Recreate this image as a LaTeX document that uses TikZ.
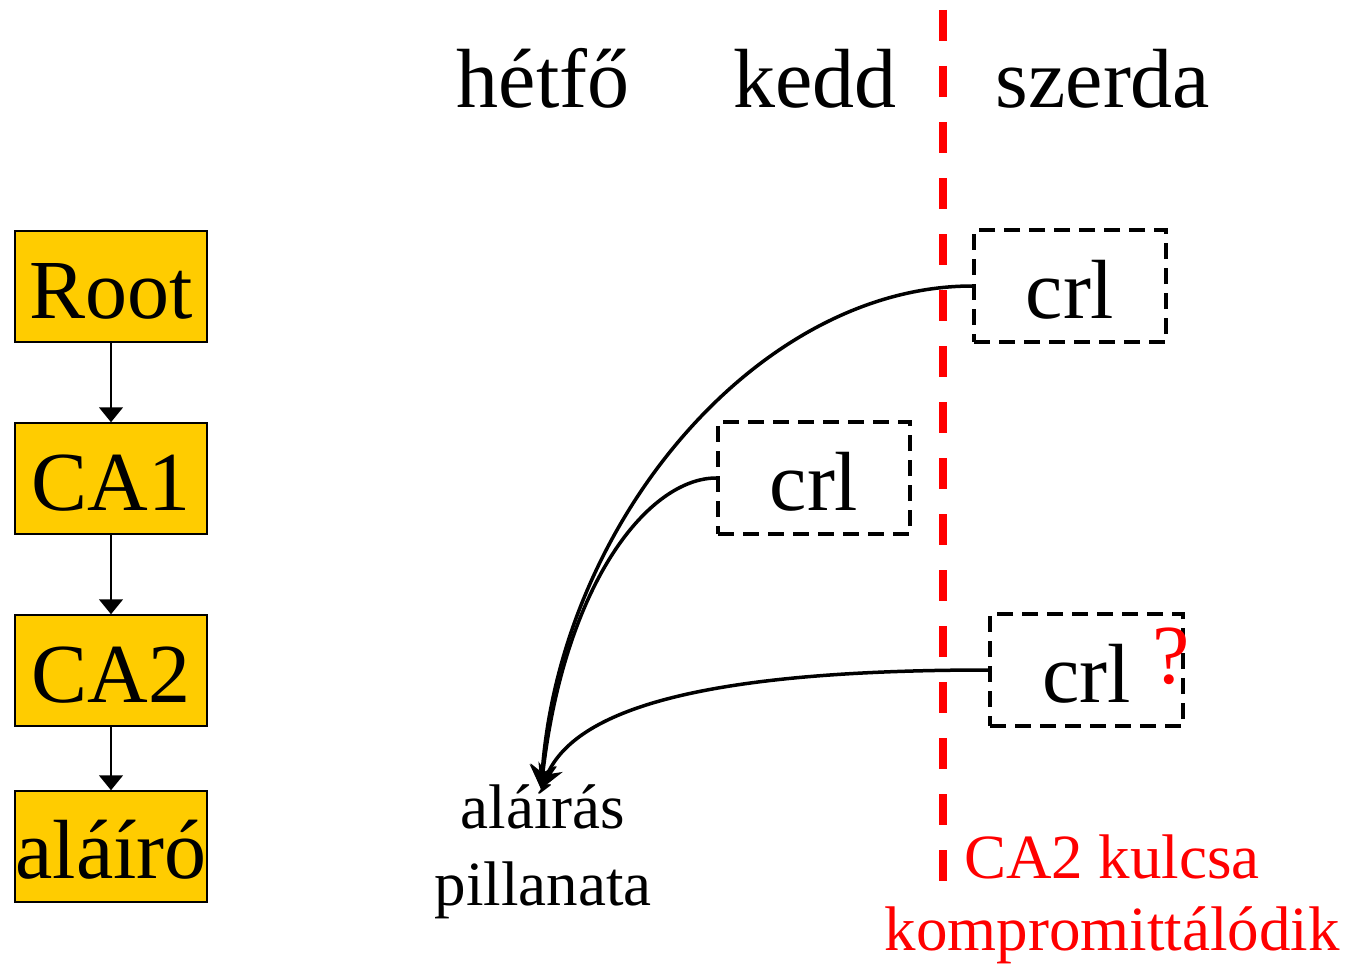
\documentclass[tikz,border=0pt]{standalone}
\usepackage{fontspec}
\setmainfont{Liberation Serif}
\usetikzlibrary{arrows.meta}
\definecolor{boxyellow}{HTML}{FFCC00}
\begin{document}
\begin{tikzpicture}[x=1pt,y=-1pt,
  bigfont/.style={font=\fontsize{84}{84}\selectfont},
  chainbox/.style={draw=black,line width=1.5pt,fill=boxyellow,minimum width=192pt,minimum height=111pt,inner sep=0pt,bigfont,text height=64pt,text depth=0pt},
  crlbox/.style={draw=black,line width=3.5pt,dash pattern=on 16pt off 9pt,minimum width=192pt,minimum height=112pt,inner sep=0pt,bigfont,text height=64pt,text depth=0pt},
  chainarrow/.style={line width=1.5pt,-{Triangle[length=15pt,width=24pt]}},
  crlarrow/.style={line width=3.5pt,-{Stealth[length=24pt,width=26pt,inset=8pt]}},
  daylabel/.style={bigfont,anchor=base,inner sep=0pt},
]
\useasboundingbox (0,0) rectangle (1349,966);
% chain
\node[chainbox] (root) at (111,286.5) {Root};
\node[chainbox] (ca1) at (111,478.5) {CA1};
\node[chainbox] (ca2) at (111,670.5) {CA2};
\node[chainbox] (alairo) at (111,846.5) {aláíró};
\draw[chainarrow] (root.south) -- (ca1.north);
\draw[chainarrow] (ca1.south) -- (ca2.north);
\draw[chainarrow] (ca2.south) -- (alairo.north);
% day labels
\node[daylabel] (hetfo) at (543,107) {hétfő};
\node[daylabel] (kedd) at (815,107) {kedd};
\node[daylabel] (szerda) at (1103,107) {szerda};
% red dashed line
\coordinate (ltop) at (943,10);
\coordinate (lbot) at (943,881);
\draw[red,line width=8pt,dash pattern=on 31pt off 25pt] (ltop) -- (lbot);
% crl boxes
\node[crlbox] (crl1) at (1070,286) {crl};
\node[crlbox] (crl2) at (814,478) {crl};
\node[crlbox,minimum width=193pt] (crl3) at (1086.5,670) {crl};
\node[bigfont,text=red,anchor=base,inner sep=0pt] (q) at (1171,683) {?};
% moment of signature
\node[font=\fontsize{63}{77}\selectfont,align=center,anchor=base,inner sep=0pt] (pill) at (543,905) {aláírás\\pillanata};
\coordinate (tip) at (541,789);
% arrows
\draw[crlarrow] (crl1.west) .. controls (760,286) and (560,520) .. (tip);
\draw[crlarrow] (crl2.west) .. controls (650,478) and (565,580) .. (tip);
\draw[crlarrow] (crl3.west) .. controls (700,670) and (575,710) .. (tip);
% red caption
\node[font=\fontsize{63}{72}\selectfont,text=red,align=center,anchor=base,inner sep=0pt] (ca2k) at (1112,950) {CA2 kulcsa\\kompromittálódik};
\end{tikzpicture}
\end{document}
